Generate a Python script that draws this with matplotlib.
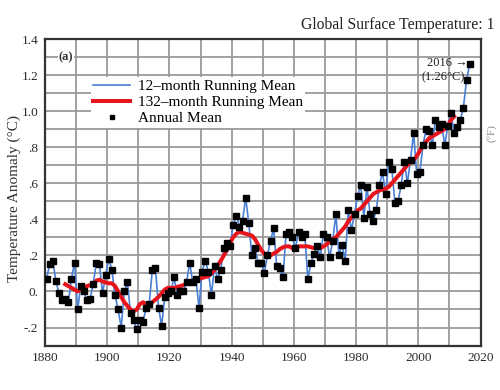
import numpy as np
import matplotlib
matplotlib.use("Agg")
import matplotlib.pyplot as plt

plt.rcParams['font.family'] = ['Liberation Serif', 'DejaVu Serif']

# annual mean anomaly (C, 1880-1920 base)
years = list(range(1880, 2017))
annual = [0.07, 0.15, 0.17, 0.06, -0.01, -0.05, -0.04, -0.06, 0.07, 0.16,
          -0.10, 0.03, 0.00, -0.05, -0.04, 0.04, 0.16, 0.15, -0.01, 0.09,
          0.18, 0.12, -0.02, -0.10, -0.20, 0.00, 0.05, -0.12, -0.16, -0.21,
          -0.16, -0.17, -0.09, -0.07, 0.12, 0.13, -0.09, -0.19, -0.03, -0.01,
          0.00, 0.08, -0.02, 0.00, 0.00, 0.05, 0.16, 0.05, 0.07, -0.09,
          0.11, 0.17, 0.11, -0.02, 0.14, 0.07, 0.12, 0.24, 0.27, 0.25,
          0.37, 0.42, 0.36, 0.39, 0.52, 0.38, 0.20, 0.24, 0.16, 0.16,
          0.10, 0.20, 0.28, 0.35, 0.14, 0.13, 0.08, 0.32, 0.33, 0.30,
          0.24, 0.33, 0.30, 0.32, 0.07, 0.16, 0.21, 0.25, 0.19, 0.32,
          0.30, 0.19, 0.28, 0.43, 0.20, 0.26, 0.17, 0.45, 0.34, 0.43,
          0.53, 0.59, 0.41, 0.58, 0.43, 0.39, 0.45, 0.59, 0.66, 0.54,
          0.72, 0.68, 0.49, 0.50, 0.59, 0.72, 0.60, 0.73, 0.88, 0.65,
          0.66, 0.81, 0.90, 0.89, 0.81, 0.95, 0.91, 0.93, 0.81, 0.92,
          0.99, 0.88, 0.91, 0.95, 1.02, 1.17, 1.26]

# 132-month running mean
years132 = list(range(1886, 2012))
mean132 = [0.04, 0.03, 0.02, 0.01, 0.00, 0.01, 0.02, 0.03, 0.035, 0.04,
           0.06, 0.065, 0.055, 0.05, 0.045, 0.045, 0.03, 0.00, -0.03, -0.06,
           -0.08, -0.10, -0.11, -0.10, -0.07, -0.06, -0.07, -0.07, -0.06, -0.045,
           -0.03, -0.01, 0.01, 0.02, 0.02, 0.02, 0.025, 0.03, 0.035, 0.045,
           0.055, 0.06, 0.065, 0.07, 0.075, 0.08, 0.085, 0.10, 0.12, 0.145,
           0.17, 0.20, 0.23, 0.27, 0.30, 0.32, 0.33, 0.325, 0.32, 0.315,
           0.31, 0.29, 0.26, 0.23, 0.21, 0.195, 0.20, 0.21, 0.22, 0.235,
           0.245, 0.25, 0.25, 0.24, 0.245, 0.25, 0.25, 0.25, 0.25, 0.245,
           0.24, 0.245, 0.24, 0.25, 0.26, 0.28, 0.29, 0.30, 0.32, 0.34,
           0.36, 0.39, 0.41, 0.43, 0.45, 0.46, 0.48, 0.50, 0.52, 0.54,
           0.55, 0.56, 0.565, 0.57, 0.58, 0.60, 0.62, 0.64, 0.66, 0.68,
           0.70, 0.715, 0.73, 0.75, 0.78, 0.81, 0.83, 0.85, 0.86, 0.87,
           0.88, 0.89, 0.90, 0.92, 0.95, 0.97]

yticks = [-0.2, 0.0, 0.2, 0.4, 0.6, 0.8, 1.0, 1.2, 1.4]
ytick_labels = ['-.2', '0.', '.2', '.4', '.6', '.8', '1.0', '1.2', '1.4']
xticks = list(range(1880, 2021, 20))

fig = plt.figure(figsize=(5, 3.9), dpi=100)
ax = fig.add_axes([0.09, 0.114, 0.871, 0.786])

x_mid = np.array(years) + 0.5
ax.plot(x_mid, annual, color='#4a7fd6', lw=1.2, zorder=3,
        label='12\u2013month Running Mean')
ax.plot(np.array(years132) + 0.5, mean132, color='#e8141c', lw=2.9, zorder=4,
        label='132\u2013month Running Mean')
ax.plot(x_mid, annual, ls='none', marker='s', ms=4.2, color='black', zorder=5,
        label='Annual Mean')

ax.set_xlim(1880, 2020)
ax.set_ylim(-0.3, 1.4)
ax.set_xticks(xticks)
ax.set_yticks(yticks)
ax.set_yticklabels(ytick_labels)
ax.set_xticks(np.arange(1880, 2021, 10), minor=True)
ax.set_yticks(np.arange(-0.3, 1.41, 0.1), minor=True)
ax.grid(True, which='both', color='#9a9a9a', lw=1.3)
ax.set_axisbelow(True)
ax.tick_params(which='both', length=0, labelsize=9.5, colors='#2a2a2a', pad=5)
for s in ax.spines.values():
    s.set_color('#333333')
    s.set_linewidth(1.6)

ax.set_ylabel('Temperature Anomaly (\u00b0C)', fontsize=11, color='#333333')
ax.yaxis.set_label_coords(-0.056, 0.48)

leg = ax.legend(loc='upper left', bbox_to_anchor=(0.088, 0.9), fontsize=11,
                frameon=True, framealpha=1, edgecolor='none', borderpad=0.15,
                handlelength=2.4, handletextpad=0.5, labelspacing=0.15,
                markerscale=0.7)
leg.get_frame().set_facecolor('white')

ax.text(1886.8, 1.30, '(a)', fontsize=9, fontweight='bold', color='#333333',
        ha='center', va='center',
        bbox=dict(facecolor='white', edgecolor='none', pad=0.5))
ax.text(2016.0, 1.265, '2016 \u2192', fontsize=9, ha='right', va='center', color='#222222')
ax.text(2008.0, 1.19, '(1.26\u00b0C)', fontsize=9, ha='center', va='center', color='#222222')

fig.text(0.602, 0.935, 'Global Surface Temperature: 1', fontsize=11.3,
         ha='left', va='center', color='#222222')
fig.text(0.986, 0.66, '(\u00b0F)', fontsize=8, rotation=90, ha='center',
         va='center', color='#888888')

fig.savefig('out.png', dpi=100)
